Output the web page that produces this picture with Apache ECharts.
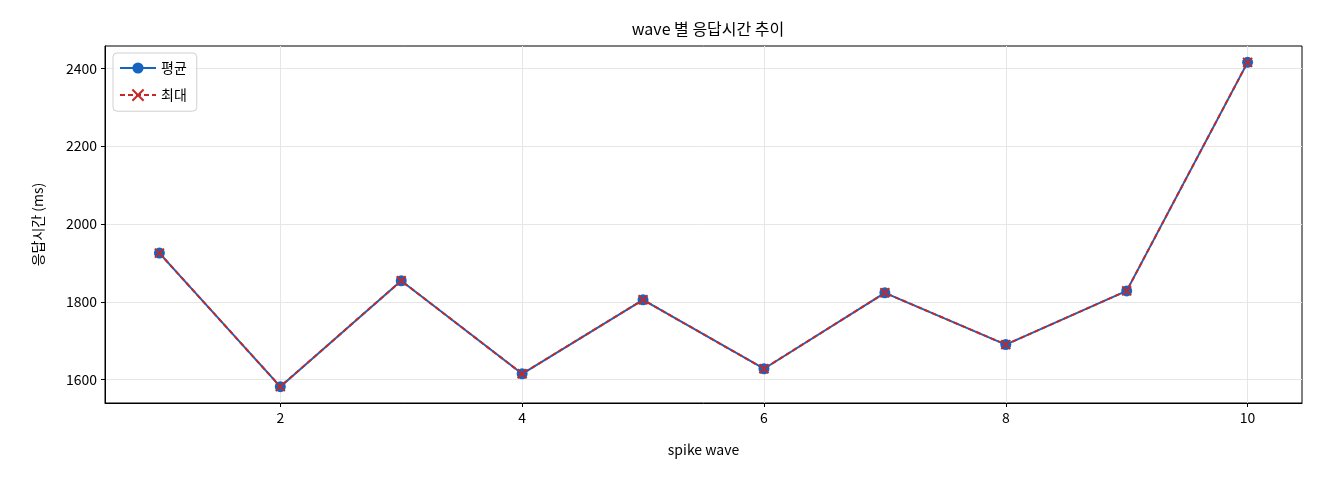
<!DOCTYPE html>
<html>
<head>
<meta charset="utf-8">
<script src="https://cdn.jsdelivr.net/npm/echarts@6/dist/echarts.min.js"></script>
<style>
  html, body { margin: 0; padding: 0; background: #fff; }
  #chart { width: 1320px; height: 480px; }
</style>
</head>
<body>
<div id="chart"></div>
<script>
// wave 번호와 응답시간 (ms)
var waves = [1, 2, 3, 4, 5, 6, 7, 8, 9, 10];
var avgMs = [1925, 1582, 1854, 1615, 1805, 1628, 1823, 1690, 1828, 2415];
var maxMs = [1925, 1582, 1854, 1615, 1805, 1628, 1823, 1690, 1828, 2415];
var xTicks = [2, 4, 6, 8, 10];
var yTicks = [1600, 1800, 2000, 2200, 2400];

var font = "'Noto Sans CJK KR', 'DejaVu Sans', sans-serif";
var myChart = echarts.init(document.getElementById("chart"));

var option = {
    animation: false,
    backgroundColor: "#fff",
    textStyle: { fontFamily: font },
    title: {
        text: "wave 별 응답시간 추이",
        left: 703,
        top: 16,
        textAlign: "center",
        textStyle: { fontFamily: font, fontSize: 16, fontWeight: "normal", color: "#000" }
    },
    legend: {
        orient: "vertical",
        left: 113,
        top: 53,
        padding: [8, 10, 8, 6],
        itemGap: 12,
        itemWidth: 36,
        itemHeight: 14,
        backgroundColor: "rgba(255,255,255,0.8)",
        borderColor: "#d0d0d0",
        borderWidth: 1,
        borderRadius: 4,
        textStyle: { fontFamily: font, fontSize: 14, color: "#000" },
        data: ["평균", "최대"]
    },
    grid: {
        left: 105, right: 18, top: 46, bottom: 77, containLabel: false,
        show: true, borderColor: "#000", borderWidth: 1
    },
    xAxis: {
        type: "value",
        min: 0.55,
        max: 10.45,
        name: "spike wave",
        nameLocation: "middle",
        nameGap: 40,
        nameTextStyle: { fontFamily: font, fontSize: 14, color: "#000" },
        axisLine: { show: true, lineStyle: { color: "#000", width: 1 } },
        axisTick: { show: true, length: 4, customValues: xTicks, lineStyle: { color: "#000" } },
        axisLabel: { customValues: xTicks, color: "#000", fontSize: 14, margin: 8, fontFamily: font },
        splitLine: { show: true, lineStyle: { color: "#e6e6e6", width: 1 } }
    },
    yAxis: {
        type: "value",
        min: 1540,
        max: 2457,
        name: "응답시간 (ms)",
        nameLocation: "middle",
        nameGap: 60,
        nameTextStyle: { fontFamily: font, fontSize: 14, color: "#000" },
        axisLine: { show: true, lineStyle: { color: "#000", width: 1 } },
        axisTick: { show: true, length: 4, customValues: yTicks, lineStyle: { color: "#000" } },
        axisLabel: {
            customValues: yTicks, color: "#000", fontSize: 14, margin: 8, fontFamily: font,
            formatter: function (v) { return String(v); }
        },
        splitLine: { show: true, lineStyle: { color: "#e6e6e6", width: 1 } }
    },
    series: [
        {
            name: "평균",
            type: "line",
            data: waves.map(function (w, i) { return [w, avgMs[i]]; }),
            symbol: "circle",
            symbolSize: 11,
            lineStyle: { color: "#1565c0", width: 2 },
            itemStyle: { color: "#1565c0" }
        },
        {
            name: "최대",
            type: "line",
            data: waves.map(function (w, i) { return [w, maxMs[i]]; }),
            symbol: "path://M0,0L10,10M10,0L0,10",
            symbolSize: 9,
            lineStyle: { color: "#c62828", width: 2, type: [5, 3] },
            itemStyle: { color: "none", borderColor: "#c62828", borderWidth: 2 }
        }
    ]
};

myChart.setOption(option);
</script>
</body>
</html>
